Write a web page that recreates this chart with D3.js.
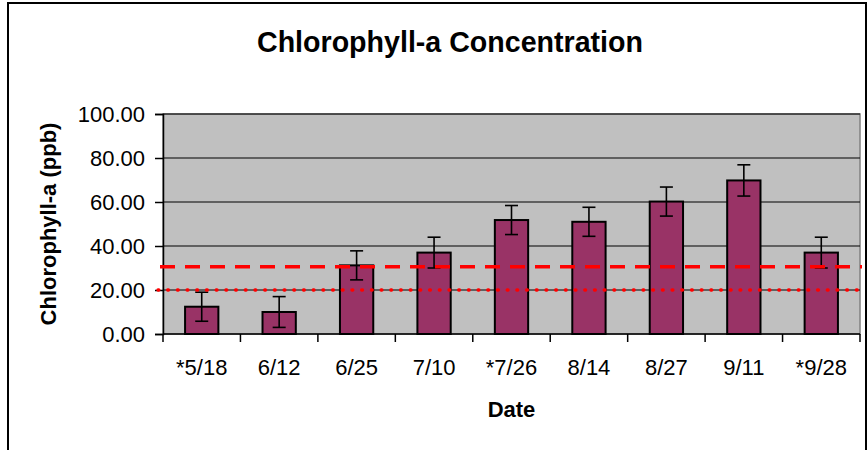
<!DOCTYPE html>
<html><head><meta charset="utf-8">
<script src="https://cdn.jsdelivr.net/npm/d3@7"></script>
<style>body{margin:0;background:#fff}svg{display:block}text{font-family:"Liberation Sans",Arial,sans-serif}</style>
</head><body>
<svg id="c" width="868" height="450"></svg>
<script>
const categories = ["*5/18","6/12","6/25","7/10","*7/26","8/14","8/27","9/11","*9/28"];
const values = [12.4, 10.0, 31.2, 37.0, 51.8, 51.0, 60.2, 69.8, 37.0];
const errors = [6.6, 7.0, 6.6, 7.0, 6.6, 6.6, 6.6, 7.1, 7.0];
const yTicks = [0,20,40,60,80,100];
const dashedLevel = 30.6;
const dottedLevel = 20;

const svg = d3.select("#c");
const L = 163, R = 860, T = 114, B = 334;
const x = d3.scaleBand().domain(categories).range([L, R]).paddingInner(0.57).paddingOuter(0.285);
const xb = d3.scaleBand().domain(categories).range([L, R]);
const y = d3.scaleLinear().domain([0, 100]).range([B, T]);

// outer border
svg.append("rect").attr("x", 8).attr("y", 3).attr("width", 858).attr("height", 460)
  .attr("fill", "none").attr("stroke", "#000").attr("stroke-width", 2);

// title
svg.append("text").attr("x", 450).attr("y", 52).attr("text-anchor", "middle")
  .attr("font-size", 28.6).attr("font-weight", "bold").text("Chlorophyll-a Concentration");

// plot area
svg.append("rect").attr("x", L).attr("y", T).attr("width", R - L).attr("height", B - T)
  .attr("fill", "#c0c0c0").attr("stroke", "#808080").attr("stroke-width", 1.5);

// gridlines
svg.append("g").selectAll("line").data(yTicks.filter(d => d > 0)).join("line")
  .attr("x1", L).attr("x2", R).attr("y1", d => y(d)).attr("y2", d => y(d))
  .attr("stroke", "#000").attr("stroke-width", 1);

// y axis
const yAxis = d3.axisLeft(y).tickValues(yTicks).tickSize(8).tickPadding(10).tickFormat(d3.format(".2f"));
const gy = svg.append("g").attr("transform", `translate(${L},0)`).call(yAxis);
gy.select(".domain").attr("stroke", "#000").attr("stroke-width", 1.5);
gy.selectAll(".tick line").attr("stroke", "#000").attr("stroke-width", 1.5);
gy.selectAll(".tick text").attr("font-size", 22).attr("fill", "#000").attr("font-family", '"Liberation Sans",Arial,sans-serif');

// x axis
const xAxis = d3.axisBottom(x).tickSize(0).tickPadding(0);
const gx = svg.append("g").attr("transform", `translate(0,${B})`).call(xAxis);
gx.select(".domain").remove();
gx.selectAll(".tick text").attr("font-size", 22).attr("fill", "#000").attr("dy", 0).attr("y", 41)
  .attr("font-family", '"Liberation Sans",Arial,sans-serif');
svg.append("line").attr("x1", L).attr("x2", R).attr("y1", B).attr("y2", B).attr("stroke", "#000").attr("stroke-width", 1.5);
const boundaries = categories.map(c => xb(c)).concat([R]);
svg.append("g").selectAll("line").data(boundaries).join("line")
  .attr("x1", d => d).attr("x2", d => d).attr("y1", B).attr("y2", B + 8)
  .attr("stroke", "#000").attr("stroke-width", 1.5);

// bars
svg.append("g").selectAll("rect").data(categories).join("rect")
  .attr("x", d => x(d)).attr("width", x.bandwidth())
  .attr("y", (d, i) => y(values[i])).attr("height", (d, i) => B - y(values[i]))
  .attr("fill", "#993366").attr("stroke", "#000").attr("stroke-width", 2);

// error bars
const eg = svg.append("g").attr("stroke", "#000").attr("stroke-width", 1.6);
categories.forEach((c, i) => {
  const cx = x(c) + x.bandwidth() / 2;
  const hi = y(values[i] + errors[i]), lo = y(values[i] - errors[i]);
  eg.append("line").attr("x1", cx).attr("x2", cx).attr("y1", hi).attr("y2", lo);
  eg.append("line").attr("x1", cx - 6.5).attr("x2", cx + 6.5).attr("y1", hi).attr("y2", hi);
  eg.append("line").attr("x1", cx - 6.5).attr("x2", cx + 6.5).attr("y1", lo).attr("y2", lo);
});

// reference lines
svg.append("line").attr("x1", L - 3).attr("x2", R + 2).attr("y1", y(dashedLevel)).attr("y2", y(dashedLevel))
  .attr("stroke", "#ff0000").attr("stroke-width", 3.5).attr("stroke-dasharray", "15,10");
svg.append("line").attr("x1", L - 5).attr("x2", R + 5).attr("y1", y(dottedLevel)).attr("y2", y(dottedLevel))
  .attr("stroke", "#ff0000").attr("stroke-width", 3.4).attr("stroke-linecap", "round").attr("stroke-dasharray", "0.8,8.9");

// axis titles
svg.append("text").attr("transform", `translate(56,${(T + B) / 2}) rotate(-90)`).attr("text-anchor", "middle")
  .attr("font-size", 22).attr("font-weight", "bold").text("Chlorophyll-a (ppb)");
svg.append("text").attr("x", (L + R) / 2).attr("y", 417).attr("text-anchor", "middle")
  .attr("font-size", 22).attr("font-weight", "bold").text("Date");
</script>
</body></html>
